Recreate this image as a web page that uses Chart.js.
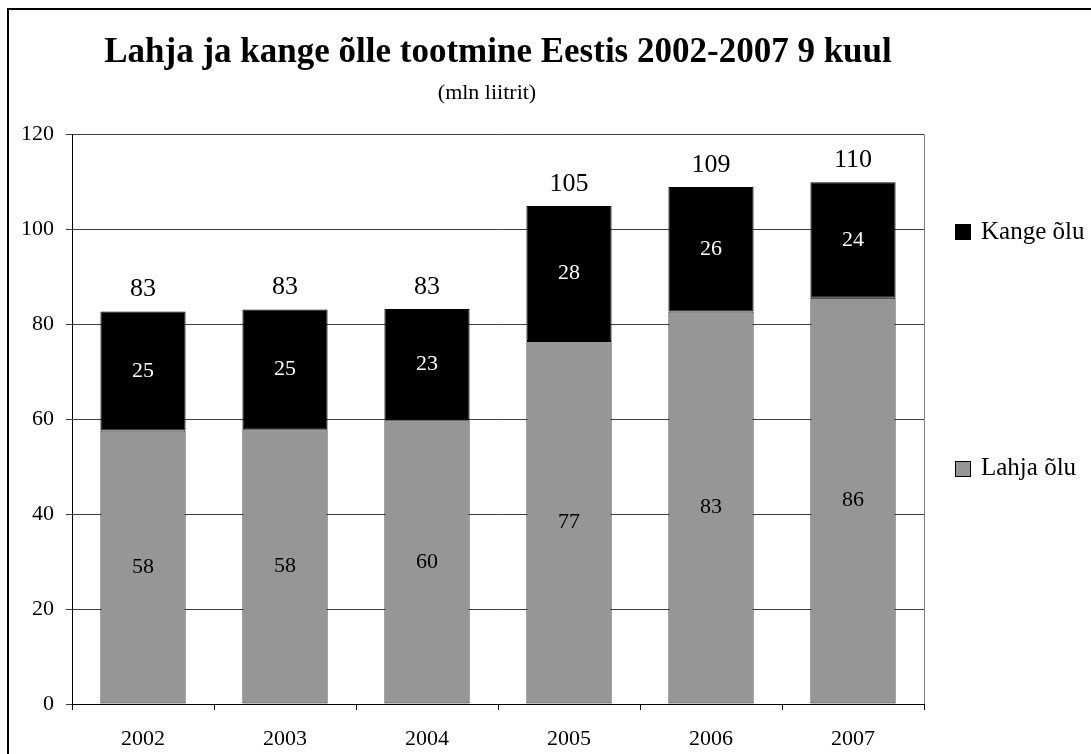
<!DOCTYPE html>
<html>
<head>
<meta charset="utf-8">
<title>Lahja ja kange õlle tootmine Eestis</title>
<script src="https://cdn.jsdelivr.net/npm/chart.js@4.4.1/dist/chart.umd.min.js"></script>
<style>
    html, body { margin: 0; padding: 0; background: #fff; }
    #wrap { position: relative; width: 1091px; height: 754px; overflow: hidden; }
    #frame { position: absolute; left: 7px; top: 8px; width: 1300px; height: 1000px; border-left: 2px solid #000; border-top: 2px solid #000; }
    #chart { position: absolute; left: 0; top: 0; }
</style>
</head>
<body>
<div id="wrap">
    <div id="frame"></div>
    <canvas id="chart" width="1091" height="754"></canvas>
</div>
<script>
const years = ['2002', '2003', '2004', '2005', '2006', '2007'];
const lahja = [57.6, 57.9, 59.8, 76.5, 82.7, 85.6];
const kange = [25.1, 25.2, 23.4, 28.4, 26.2, 24.3];
const yMin = 0;
const yMax = 120;
const yStep = 20;

const serif = "'Liberation Serif', 'Times New Roman', serif";
Chart.defaults.font.family = serif;
Chart.defaults.color = '#000';

// values inside the segments + totals on top
const barLabels = {
    id: 'barLabels',
    afterDatasetsDraw(chart) {
        const { ctx } = chart;
        const inkColors = ['#000', '#fff'];
        ctx.save();
        ctx.textAlign = 'center';
        ctx.textBaseline = 'middle';
        ctx.font = '22px ' + serif;
        chart.data.datasets.forEach((ds, i) => {
            const meta = chart.getDatasetMeta(i);
            ctx.fillStyle = inkColors[i];
            meta.data.forEach((bar, j) => {
                ctx.fillText(Math.round(ds.data[j]), bar.x, (bar.y + bar.base) / 2);
            });
        });
        const top = chart.getDatasetMeta(chart.data.datasets.length - 1);
        ctx.font = '26px ' + serif;
        ctx.fillStyle = '#000';
        top.data.forEach((bar, j) => {
            ctx.fillText(Math.round(lahja[j] + kange[j]), bar.x, bar.y - 22);
        });
        ctx.restore();
    }
};

// gray border on the right of the plot area
const plotFrame = {
    id: 'plotFrame',
    beforeDatasetsDraw(chart) {
        const { ctx, chartArea } = chart;
        ctx.save();
        ctx.strokeStyle = '#808080';
        ctx.lineWidth = 1;
        ctx.beginPath();
        ctx.moveTo(Math.round(chartArea.right) + 0.5, chartArea.top);
        ctx.lineTo(Math.round(chartArea.right) + 0.5, chartArea.bottom);
        ctx.stroke();
        ctx.restore();
    }
};

// Excel style legend, entries spread down the right side
const sideLegend = {
    id: 'sideLegend',
    afterDraw(chart) {
        const { ctx, chartArea } = chart;
        const h = chartArea.bottom - chartArea.top;
        const entries = [
            { ds: 1, y: chartArea.top + h * 0.172 },
            { ds: 0, y: chartArea.top + h * 0.587 }
        ];
        const x = chartArea.right + 31;
        ctx.save();
        ctx.font = '25px ' + serif;
        ctx.textBaseline = 'middle';
        ctx.textAlign = 'left';
        entries.forEach(e => {
            const ds = chart.data.datasets[e.ds];
            ctx.fillStyle = ds.backgroundColor;
            ctx.fillRect(x, Math.round(e.y) - 8, 16, 16);
            ctx.strokeStyle = '#000';
            ctx.lineWidth = 1;
            ctx.strokeRect(x + 0.5, Math.round(e.y) - 7.5, 15, 15);
            ctx.fillStyle = '#000';
            ctx.fillText(ds.label, x + 26, e.y);
        });
        ctx.restore();
    }
};

new Chart(document.getElementById('chart'), {
    type: 'bar',
    data: {
        labels: years,
        datasets: [
            {
                label: 'Lahja õlu',
                data: lahja,
                backgroundColor: '#969696',
                borderColor: '#000',
                borderWidth: 1,
                borderSkipped: false,
                categoryPercentage: 0.6,
                barPercentage: 1.0
            },
            {
                label: 'Kange õlu',
                data: kange,
                backgroundColor: '#000',
                borderColor: '#000',
                borderWidth: 1,
                borderSkipped: false,
                categoryPercentage: 0.6,
                barPercentage: 1.0
            }
        ]
    },
    options: {
        responsive: false,
        animation: false,
        layout: { padding: { left: 0, right: 167, top: 0, bottom: 0 } },
        plugins: {
            legend: { display: false },
            tooltip: { enabled: false },
            title: {
                display: true,
                text: 'Lahja ja kange õlle tootmine Eestis 2002-2007 9 kuul',
                fullSize: false,
                color: '#000',
                font: { size: 35, weight: 'bold', family: serif },
                padding: { top: 32, bottom: 6 }
            },
            subtitle: {
                display: true,
                // trailing spaces nudge it a bit left of the title centre, like the original
                text: '(mln liitrit)    ',
                fullSize: false,
                color: '#000',
                font: { size: 22, family: serif },
                padding: { top: 0, bottom: 28 }
            }
        },
        scales: {
            x: {
                stacked: true,
                afterFit(scale) { scale.height = 50; },
                grid: { drawOnChartArea: false, drawTicks: true, tickLength: 6, color: '#000', offset: true },
                border: { color: '#000', width: 1 },
                ticks: { color: '#000', font: { size: 22, family: serif }, padding: 16, maxRotation: 0 }
            },
            y: {
                stacked: true,
                min: yMin,
                max: yMax,
                afterFit(scale) { scale.width = 72; },
                grid: { color: '#404040', lineWidth: 1, drawTicks: true, tickLength: 6 },
                border: { color: '#000', width: 1 },
                ticks: { stepSize: yStep, color: '#000', font: { size: 22, family: serif }, padding: 12 }
            }
        }
    },
    plugins: [barLabels, plotFrame, sideLegend]
});
</script>
</body>
</html>
